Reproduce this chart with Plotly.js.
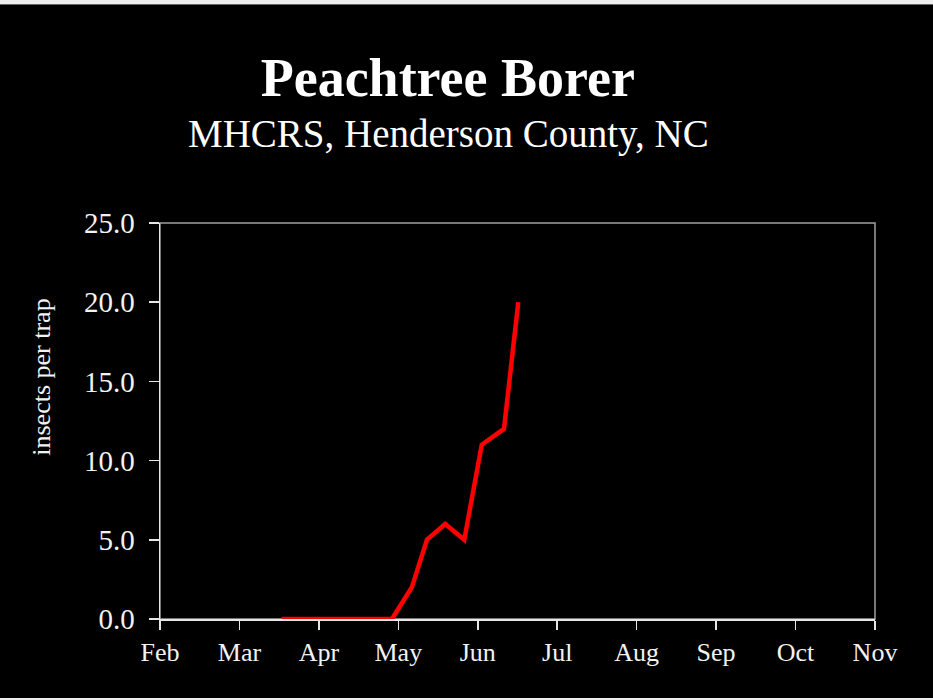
<!DOCTYPE html>
<html>
<head>
<meta charset="utf-8">
<script src="https://cdn.plot.ly/plotly-3.0.1.min.js"></script>
<style>
  html, body { margin: 0; padding: 0; background: #eeeeee; }
  #chart { position: absolute; left: 0; top: 4px; width: 933px; height: 693px; border-top: 1px solid #666; background: #000; }
</style>
</head>
<body>
<div id="chart"></div>
<script>
// months on the axis, Feb = 0
const months = ['Feb', 'Mar', 'Apr', 'May', 'Jun', 'Jul', 'Aug', 'Sep', 'Oct', 'Nov'];
// trap dates as month position
const trapDate = [1.53, 1.76, 1.99, 2.23, 2.46, 2.69, 2.92, 3.17, 3.36, 3.59, 3.83, 4.05, 4.33, 4.51];
const insects = [0, 0, 0, 0, 0, 0, 0, 2, 5, 6, 5, 11, 12, 20];

const serif = 'Liberation Serif, Times New Roman, serif';

const trace = {
  x: trapDate,
  y: insects,
  type: 'scatter',
  mode: 'lines',
  line: { color: '#ff0000', width: 4.5 },
  hoverinfo: 'skip'
};

const layout = {
  width: 933,
  height: 693,
  paper_bgcolor: '#000',
  plot_bgcolor: '#000',
  margin: { l: 160, r: 58, t: 218, b: 79 },
  showlegend: false,
  font: { family: serif, color: '#f2f2f2', size: 26 },
  title: {
    text: '<b>Peachtree Borer</b>',
    font: { family: serif, size: 54, color: '#ffffff' },
    x: 0.48, xanchor: 'center',
    y: 0.869, yanchor: 'bottom'
  },
  xaxis: {
    range: [0, 9],
    tickmode: 'array',
    tickvals: months.map((_, i) => i),
    ticktext: months,
    showgrid: false,
    zeroline: false,
    showline: true,
    linecolor: '#e6e6e6',
    linewidth: 1.5,
    ticks: 'outside',
    ticklen: 9,
    tickwidth: 1.5,
    tickcolor: '#e6e6e6',
    layer: 'below traces',
    tickfont: { family: serif, size: 26, color: '#f2f2f2' }
  },
  yaxis: {
    range: [0, 25],
    dtick: 5,
    tick0: 0,
    tickformat: '.1f',
    showgrid: false,
    zeroline: false,
    showline: true,
    linecolor: '#e6e6e6',
    linewidth: 1.5,
    ticks: 'outside',
    ticklen: 10,
    tickwidth: 1.5,
    tickcolor: '#e6e6e6',
    ticklabelstandoff: 8,
    layer: 'below traces',
    tickfont: { family: serif, size: 29, color: '#f2f2f2' }
  },
  shapes: [{
    type: 'rect', xref: 'paper', yref: 'paper',
    x0: 0, x1: 1, y0: 0, y1: 1,
    line: { color: '#a0a0a0', width: 1.5 },
    layer: 'below'
  }],
  annotations: [
    {
      text: 'MHCRS, Henderson County, NC',
      xref: 'paper', yref: 'paper',
      x: 0.404, y: 1.225,
      xanchor: 'center', yanchor: 'middle',
      showarrow: false,
      font: { family: serif, size: 39, color: '#ffffff' }
    },
    {
      text: 'insects per trap',
      xref: 'paper', yref: 'paper',
      x: -0.166, y: 0.61,
      xanchor: 'center', yanchor: 'middle',
      textangle: -90,
      showarrow: false,
      font: { family: serif, size: 26, color: '#f2f2f2' }
    }
  ]
};

Plotly.newPlot('chart', [trace], layout, { displayModeBar: false, staticPlot: true });
</script>
</body>
</html>
